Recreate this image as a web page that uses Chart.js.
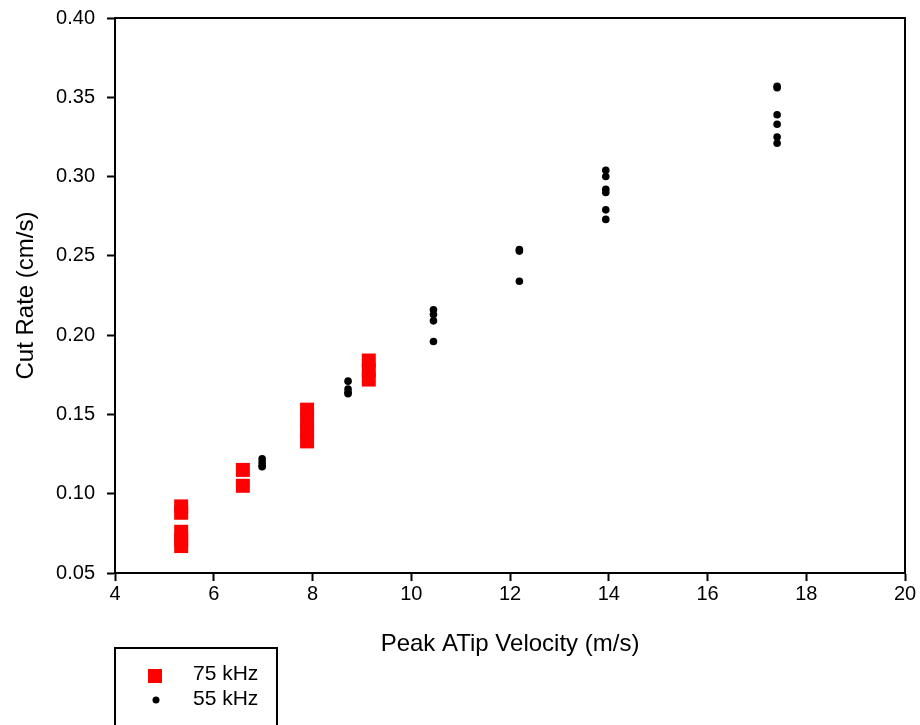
<!DOCTYPE html>
<html>
<head>
<meta charset="utf-8">
<script src="https://cdn.jsdelivr.net/npm/chart.js@4"></script>
<style>
  body { margin: 0; background: #fff; }
</style>
</head>
<body>
<canvas id="cutChart" width="920" height="725"></canvas>
<script>
// Cut rate vs peak tip velocity

// 75 kHz (red squares)
const x75 = [5.34, 5.34, 5.34, 5.34, 5.34, 6.59, 6.59, 7.89, 7.89, 7.89, 7.89, 9.14, 9.14, 9.14];
const y75 = [0.092, 0.088, 0.076, 0.071, 0.067, 0.115, 0.105, 0.153, 0.146, 0.139, 0.133, 0.184, 0.178, 0.172];

// 55 kHz (black dots)
const x55 = [6.98, 6.98, 6.98, 6.98, 8.72, 8.72, 8.72, 8.72, 10.45, 10.45, 10.45, 10.45,
    12.19, 12.19, 12.19, 13.94, 13.94, 13.94, 13.94, 13.94, 13.94,
    17.41, 17.41, 17.41, 17.41, 17.41, 17.41];
const y55 = [0.122, 0.120, 0.118, 0.117, 0.171, 0.166, 0.164, 0.163, 0.216, 0.213, 0.209, 0.196,
    0.254, 0.253, 0.234, 0.304, 0.300, 0.292, 0.290, 0.279, 0.273,
    0.357, 0.356, 0.339, 0.333, 0.325, 0.321];

const seriesLabels = ["75 kHz", "55 kHz"];
const xTitle = "Peak ATip Velocity (m/s)";
const yTitle = "Cut Rate (cm/s)";

Chart.defaults.font.family = "'Liberation Sans', Arial, sans-serif";
Chart.defaults.color = "black";

function toPoints(xs, ys) {
    return xs.map((x, i) => ({ x: x, y: ys[i] }));
}

// frame around plot + boxed legend under the axis
const framePlugin = {
    id: "frame",
    afterDraw(chart) {
        const ctx = chart.ctx;
        const a = chart.chartArea;
        ctx.save();
        ctx.strokeStyle = "black";
        ctx.lineWidth = 2;
        ctx.strokeRect(a.left, a.top, a.right - a.left, a.bottom - a.top);

        // legend box
        ctx.strokeRect(115, 648, 162, 100);
        ctx.font = "21px 'Liberation Sans', Arial, sans-serif";
        ctx.textBaseline = "middle";
        ctx.textAlign = "left";

        const ds = chart.data.datasets;
        ctx.fillStyle = ds[0].backgroundColor;
        ctx.fillRect(148, 669, 14, 14);
        ctx.fillStyle = "black";
        ctx.fillText(ds[0].label, 193, 674);

        ctx.fillStyle = ds[1].backgroundColor;
        ctx.beginPath();
        ctx.arc(156, 700, 3.5, 0, Math.PI * 2);
        ctx.fill();
        ctx.fillStyle = "black";
        ctx.fillText(ds[1].label, 193, 699);
        ctx.restore();
    },
};

const config = {
    type: "scatter",
    data: {
        datasets: [
            {
                label: seriesLabels[0],
                data: toPoints(x75, y75),
                pointStyle: "rect",
                pointRadius: 9.9,
                pointHoverRadius: 9.9,
                borderWidth: 0,
                backgroundColor: "#ff0000",
                borderColor: "#ff0000",
            },
            {
                label: seriesLabels[1],
                data: toPoints(x55, y55),
                pointStyle: "circle",
                pointRadius: 3.8,
                pointHoverRadius: 3.8,
                borderWidth: 0,
                backgroundColor: "#000000",
                borderColor: "#000000",
            },
        ],
    },
    options: {
        responsive: false,
        animation: false,
        layout: {
            padding: { left: 0, right: 15, top: 18, bottom: 60 },
        },
        scales: {
            x: {
                type: "linear",
                min: 4,
                max: 20,
                afterFit: (s) => { s.height = 92; s.paddingLeft = 0; s.paddingRight = 0; },
                ticks: {
                    stepSize: 2,
                    padding: 1,
                    font: { size: 20 },
                    color: "black",
                },
                grid: {
                    drawOnChartArea: false,
                    drawTicks: true,
                    tickLength: 8,
                    tickWidth: 2,
                    tickColor: "black",
                },
                border: { display: true, color: "black", width: 2 },
                title: {
                    display: true,
                    text: xTitle,
                    font: { size: 24 },
                    padding: { top: 0, bottom: 6 },
                    color: "black",
                },
            },
            y: {
                type: "linear",
                min: 0.05,
                max: 0.40,
                afterFit: (s) => { s.width = 115; s.paddingTop = 0; s.paddingBottom = 0; },
                ticks: {
                    stepSize: 0.05,
                    padding: 12,
                    font: { size: 20 },
                    color: "black",
                    callback: function (value) {
                        return value.toFixed(2);
                    },
                },
                grid: {
                    drawOnChartArea: false,
                    drawTicks: true,
                    tickLength: 8,
                    tickWidth: 2,
                    tickColor: "black",
                },
                border: { display: true, color: "black", width: 2 },
                title: {
                    display: true,
                    text: yTitle,
                    font: { size: 24 },
                    padding: { top: 12, bottom: 0 },
                    color: "black",
                },
            },
        },
        plugins: {
            legend: { display: false },
            tooltip: { enabled: false },
        },
    },
    plugins: [framePlugin],
};

const cutChart = new Chart(document.getElementById("cutChart").getContext("2d"), config);
</script>
</body>
</html>
